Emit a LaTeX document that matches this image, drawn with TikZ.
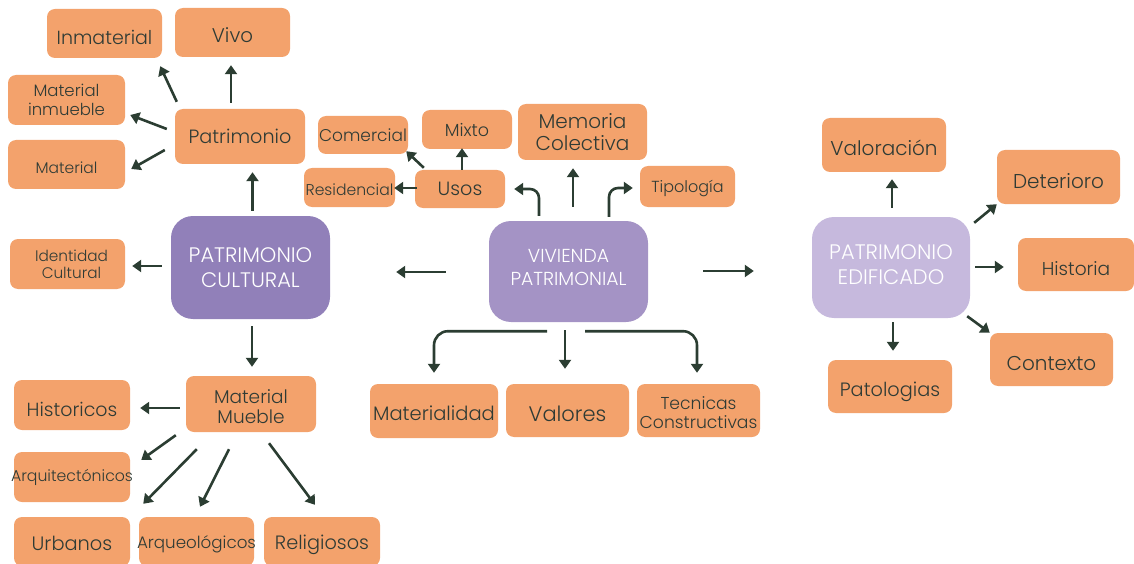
\documentclass[tikz,border=0pt]{standalone}
\usepackage{fontspec}
\setmainfont{Poppins}[UprightFont=* Light]
\usetikzlibrary{arrows.meta}
\definecolor{org}{HTML}{F3A26C}
\definecolor{txt}{HTML}{2F3B35}
\definecolor{arrc}{HTML}{2B3D32}
\definecolor{pcul}{HTML}{9180B9}
\definecolor{pviv}{HTML}{A493C5}
\definecolor{pedi}{HTML}{C6B9DD}
\tikzset{
  tl/.style={text=txt, align=center, inner sep=0pt},
  fs/.style 2 args={font=\fontsize{#1}{#2}\selectfont},
  ob/.style n args={4}{fill=org, rounded corners=8pt, minimum width=#1pt, minimum height=#2pt, inner sep=0pt, label={[tl,#4]center:#3}},
  pb/.style n args={4}{fill=#4, rounded corners=22pt, minimum width=#1pt, minimum height=#2pt, inner sep=0pt, label={[text=white, align=center, inner sep=0pt, #4txt]center:#3}},
  pcultxt/.style={fs={21}{25}},
  pvivtxt/.style={fs={18.8}{23},yshift=4pt},
  peditxt/.style={fs={21}{25},yshift=3pt},
  arr/.style={draw=arrc, line width=2.6pt, -{Triangle[width=12pt,length=9pt]}},
}
\begin{document}
\begin{tikzpicture}[x=1pt,y=-1pt]
\useasboundingbox (0,0) rectangle (1134,564);
% boxes
\node[ob={115}{49}{Inmaterial}{fs={19}{21},yshift=-4pt}] (inm) at (104.5,33.5) {};
\node[ob={115}{49}{Vivo}{fs={19.8}{21},yshift=-3pt}] (vivo) at (232.5,32.5) {};
\node[ob={117}{50}{Material\\inmueble}{fs={16.5}{19}}] (matinm) at (66.5,100) {};
\node[ob={117}{49}{Material}{fs={15.5}{18},yshift=-3pt}] (mat) at (66.5,164.5) {};
\node[ob={130}{55}{Patrimonio}{fs={19.2}{21}}] (pat) at (240,136.5) {};
\node[ob={90}{38}{Comercial}{fs={17}{19}}] (com) at (363,135) {};
\node[ob={90}{39}{Mixto}{fs={17.5}{19}}] (mix) at (467,129.5) {};
\node[ob={129}{56}{Memoria\\Colectiva}{fs={20}{21.5}}] (mem) at (582.5,132) {};
\node[ob={91}{39}{Residencial}{fs={15.6}{18},yshift=-2pt}] (res) at (349.5,187.5) {};
\node[ob={90}{38}{Usos}{fs={19.2}{21}}] (usos) at (460,189) {};
\node[ob={95}{41}{Tipología}{fs={16}{18},yshift=-2pt}] (tip) at (687.5,186.5) {};
\node[ob={115}{50}{Identidad\\Cultural}{fs={15.3}{17},xshift=4pt}] (iden) at (67.5,264) {};
\node[pb={159}{103}{PATRIMONIO\\CULTURAL}{pcul}] (pc) at (250.5,267.5) {};
\node[pb={159}{101}{VIVIENDA\\PATRIMONIAL}{pviv}] (vp) at (568.5,271.5) {};
\node[pb={158}{101}{PATRIMONIO\\EDIFICADO}{pedi}] (pe) at (891,267.5) {};
\node[ob={124}{54}{Valoración}{fs={20}{21},yshift=-3pt}] (val) at (884,145) {};
\node[ob={123}{54}{Deterioro}{fs={20}{21},yshift=-4pt}] (det) at (1058.5,177) {};
\node[ob={116}{53}{Historia}{fs={18.6}{21},yshift=-4pt}] (his) at (1076,264.5) {};
\node[ob={123}{53}{Contexto}{fs={20}{21},yshift=-4pt}] (con) at (1051.5,359.5) {};
\node[ob={124}{53}{Patologias}{fs={19.3}{21},yshift=-5pt}] (patol) at (890,386.5) {};
\node[ob={130}{56}{Material\\Mueble}{fs={18.5}{20},yshift=-3pt}] (mm) at (251,404) {};
\node[ob={116}{50}{Historicos}{fs={19}{21},yshift=-4pt}] (hist) at (72,405) {};
\node[ob={116}{50}{Arquitectónicos}{fs={15.7}{18}}] (arq) at (72,477) {};
\node[ob={116}{49}{Urbanos}{fs={19.4}{21},yshift=-2pt}] (urb) at (72,541.5) {};
\node[ob={115}{49}{Arqueológicos}{fs={16.7}{19},yshift=-3pt}] (arqo) at (196.5,541.5) {};
\node[ob={116}{49}{Religiosos}{fs={19.3}{21},yshift=-3pt}] (rel) at (322,541.5) {};
\node[ob={128}{54}{Materialidad}{fs={19.5}{21},yshift=-2pt}] (mtd) at (434,411) {};
\node[ob={123}{53}{Valores}{fs={21}{22},yshift=-3pt}] (valr) at (567.5,410.5) {};
\node[ob={123}{53}{Tecnicas\\Constructivas}{fs={17.2}{19.5},yshift=-2pt}] (tec) at (698.5,410.5) {};
% arrows
\draw[arr] ([shift={(-9,-6)}]pat.north) -- ([shift={(-1.5,8)}]vivo.south);
\draw[arr] ([shift={(2,-7)}]pat.north west) -- ([shift={(-2,8)}]inm.south east);
\draw[arr] ([shift={(-8,-7.5)}]pat.west) -- ([shift={(5,15)}]matinm.east);
\draw[arr] ([shift={(-10,13.5)}]pat.west) -- ([shift={(6,4.5)}]mat.east);
\draw[arr] ([shift={(2,-5)}]pc.north) -- ([shift={(12.5,8)}]pat.south);
\draw[arr] ([shift={(-9,-1.5)}]pc.west) -- ([shift={(7,2)}]iden.east);
\draw[arr] ([shift={(1.5,7)}]pc.south) -- ([shift={(1,-9)}]mm.north);
\draw[arr] ([shift={(-43,0.5)}]vp.west) -- ([shift={(66,4.5)}]pc.east);
\draw[arr] ([shift={(55,-0.5)}]vp.east) -- ([shift={(-58,3.5)}]pe.west);
\draw[arr, rounded corners=9pt] ([shift={(-29.5,-5)}]vp.north) |- ([xshift=9]usos.east);
\draw[arr] ([shift={(4.5,-14)}]vp.north) -- ([shift={(-9.5,8)}]mem.south);
\draw[arr, rounded corners=9pt] ([shift={(40.5,-4)}]vp.north) |- ([shift={(-7,1.5)}]tip.west);
\draw[arr] ([shift={(2,0)}]usos.north) -- ([shift={(-5,-1)}]mix.south);
\draw[arr] ([shift={(9,-2)}]usos.north west) -- ([shift={(-2,-3)}]com.south east);
\draw[arr] ([shift={(2,-1)}]usos.west) -- ([shift={(-1,0.5)}]res.east);
\draw[arr, rounded corners=14pt] ([shift={(-21.5,9)}]vp.south) -| ([shift={(0,-11)}]mtd.north);
\draw[arr] ([shift={(-3.5,8)}]vp.south) -- ([shift={(-2.5,-15)}]valr.north);
\draw[arr, rounded corners=14pt] ([shift={(16.5,9)}]vp.south) -| ([shift={(-1.5,-11)}]tec.north);
\draw[arr] ([shift={(-6,4)}]mm.west) -- ([shift={(10,3)}]hist.east);
\draw[arr] ([shift={(-10,3)}]mm.south west) -- ([shift={(11,-17)}]arq.east);
\draw[arr] ([shift={(11,17)}]mm.south west) -- ([shift={(13,-13)}]urb.north east);
\draw[arr] ([shift={(-22,17)}]mm.south) -- ([shift={(3.5,-10)}]arqo.north);
\draw[arr] ([shift={(18,11)}]mm.south) -- ([shift={(-7,-12)}]rel.north);
\draw[arr] ([shift={(1,-9)}]pe.north) -- ([shift={(8,7)}]val.south);
\draw[arr] ([shift={(4,6)}]pe.north east) -- (det.south west);
\draw[arr] ([shift={(5,-0.5)}]pe.east) -- ([shift={(-14,2.5)}]his.west);
\draw[arr] ([shift={(-3,-2)}]pe.south east) -- (con.north west);
\draw[arr] ([shift={(2,4)}]pe.south) -- ([shift={(3,-9)}]patol.north);
\end{tikzpicture}
\end{document}
